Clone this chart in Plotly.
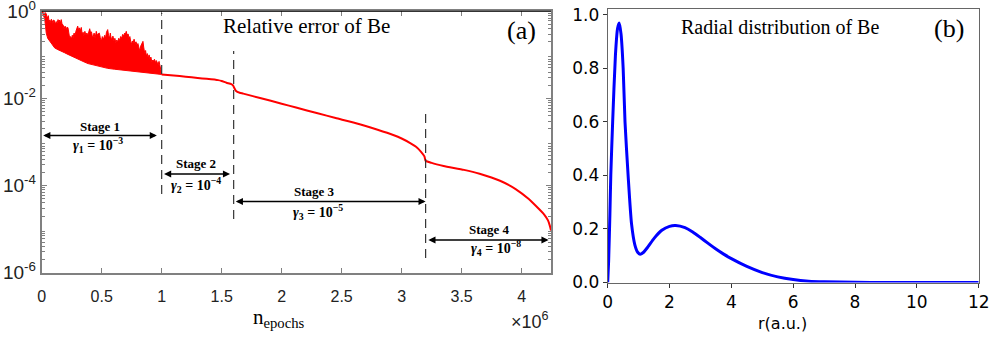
import plotly.graph_objects as go

W, H = 997, 339

# ---------------- Panel (a): relative error (x in units of 1e6 epochs, y as log10) -------------
stage1_upper_x = [0.000, 0.010, 0.020, 0.030, 0.038, 0.046, 0.055, 0.062, 0.068, 0.075, 0.080, 0.088,
                  0.094, 0.100, 0.108, 0.115, 0.122, 0.130, 0.136, 0.144, 0.150, 0.157, 0.163, 0.170,
                  0.178, 0.186, 0.195, 0.205, 0.212, 0.219, 0.226, 0.233, 0.240, 0.247, 0.255, 0.262,
                  0.270, 0.278, 0.285, 0.292, 0.300, 0.307, 0.315, 0.322, 0.330, 0.337, 0.345, 0.352,
                  0.360, 0.368, 0.376, 0.386, 0.393, 0.400, 0.408, 0.415, 0.422, 0.430, 0.437, 0.445,
                  0.455, 0.463, 0.470, 0.480, 0.488, 0.497, 0.505, 0.515, 0.525, 0.532, 0.540, 0.550,
                  0.557, 0.565, 0.572, 0.580, 0.587, 0.594, 0.602, 0.610, 0.618, 0.626, 0.634, 0.642,
                  0.650, 0.658, 0.666, 0.675, 0.683, 0.691, 0.698, 0.705, 0.712, 0.720, 0.728, 0.735,
                  0.742, 0.747, 0.755, 0.762, 0.770, 0.778, 0.786, 0.794, 0.802, 0.810, 0.817, 0.825,
                  0.832, 0.838, 0.844, 0.850, 0.858, 0.866, 0.872, 0.880, 0.888, 0.895, 0.903, 0.910,
                  0.918, 0.925, 0.932, 0.940, 0.948, 0.955, 0.962, 0.970, 0.978, 0.985, 0.992, 1.000]
stage1_upper_log10 = [0.00, -0.02, -0.05, -0.03, -0.06, -0.16, -0.10, -0.24, -0.20, -0.26, -0.18, -0.22,
                      -0.28, -0.20, -0.22, -0.30, -0.24, -0.26, -0.19, -0.25, -0.20, -0.27, -0.19, -0.30,
                      -0.31, -0.40, -0.34, -0.42, -0.36, -0.38, -0.52, -0.61, -0.58, -0.64, -0.55, -0.60,
                      -0.50, -0.55, -0.46, -0.40, -0.34, -0.42, -0.38, -0.45, -0.37, -0.52, -0.48, -0.56,
                      -0.46, -0.55, -0.50, -0.54, -0.42, -0.40, -0.50, -0.47, -0.58, -0.57, -0.50, -0.62,
                      -0.46, -0.55, -0.52, -0.50, -0.60, -0.69, -0.58, -0.64, -0.55, -0.62, -0.48, -0.42,
                      -0.55, -0.62, -0.50, -0.66, -0.60, -0.57, -0.68, -0.62, -0.72, -0.66, -0.70, -0.62,
                      -0.67, -0.58, -0.62, -0.53, -0.57, -0.50, -0.52, -0.46, -0.55, -0.52, -0.62, -0.58,
                      -0.70, -0.76, -0.68, -0.72, -0.64, -0.74, -0.70, -0.78, -0.74, -0.86, -0.91, -0.80,
                      -0.76, -0.72, -0.69, -0.82, -0.95, -0.90, -1.03, -0.97, -1.08, -1.00, -1.10, -1.05,
                      -1.16, -1.12, -1.14, -1.10, -1.18, -1.13, -1.20, -1.22, -1.15, -1.30, -1.33, -1.45]

stage1_lower_x = [0.0, 0.012, 0.025, 0.032, 0.038, 0.05, 0.067, 0.085, 0.108, 0.135, 0.163, 0.19, 0.219,
                  0.25, 0.275, 0.30, 0.33, 0.36, 0.386, 0.44, 0.497, 0.55, 0.608, 0.68, 0.747, 0.82,
                  0.886, 0.94, 1.0]
stage1_lower_log10 = [0.0, -0.08, -0.17, -0.35, -0.50, -0.62, -0.69, -0.77, -0.84, -0.88, -0.91, -0.95,
                      -0.99, -1.03, -1.07, -1.11, -1.14, -1.17, -1.20, -1.24, -1.28, -1.31, -1.33, -1.35,
                      -1.37, -1.39, -1.41, -1.43, -1.45]

later_x = [1.0, 1.1, 1.2, 1.3, 1.375, 1.47, 1.5, 1.54, 1.58, 1.595, 1.605, 1.62, 1.65, 1.68, 1.82, 2.0,
           2.12, 2.3, 2.45, 2.62, 2.8, 2.93, 3.0, 3.075, 3.12, 3.16, 3.19, 3.2, 3.25, 3.35, 3.52, 3.65,
           3.82, 3.95, 4.06, 4.12, 4.19, 4.22, 4.235, 4.245]
later_log10 = [-1.45, -1.475, -1.50, -1.53, -1.55, -1.58, -1.60, -1.64, -1.67, -1.70, -1.76, -1.83,
               -1.87, -1.89, -1.99, -2.12, -2.21, -2.34, -2.45, -2.57, -2.72, -2.84, -2.92, -3.03,
               -3.11, -3.22, -3.33, -3.43, -3.48, -3.55, -3.64, -3.73, -3.89, -4.08, -4.31, -4.47,
               -4.67, -4.80, -4.92, -5.03]

x_tickvals = [0, 0.5, 1, 1.5, 2, 2.5, 3, 3.5, 4]
x_ticktext = ["0", "0.5", "1", "1.5", "2", "2.5", "3", "3.5", "4"]
y_tickvals = [1, 1e-2, 1e-4, 1e-6]
y_ticktext = ["10<sup>0</sup>", "10<sup>-2</sup>", "10<sup>-4</sup>", "10<sup>-6</sup>"]

stage_names = ["Stage 1", "Stage 2", "Stage 3", "Stage 4"]
gamma_texts = ["<b><i>γ</i><sub>1</sub> = 10<sup>−3</sup></b>",
               "<b><i>γ</i><sub>2</sub> = 10<sup>−4</sup></b>",
               "<b><i>γ</i><sub>3</sub> = 10<sup>−5</sup></b>",
               "<b><i>γ</i><sub>4</sub> = 10<sup>−8</sup></b>"]

# ---------------- Panel (b): radial distribution -------------
r_vals = [0, 0.03, 0.07, 0.1, 0.16, 0.25, 0.32, 0.37, 0.43, 0.5, 0.56, 0.66, 0.77, 0.88, 0.97, 1.05,
          1.15, 1.3, 1.5, 1.75, 2.0, 2.2, 2.5, 2.75, 3.0, 3.25, 3.5, 3.75, 4.0, 4.5, 5.0, 5.5, 6.0,
          6.5, 7.0, 8.0, 9.0, 10.0, 12.0]
rho_vals = [0, 0.08, 0.25, 0.4, 0.6, 0.85, 0.95, 0.97, 0.93, 0.8, 0.6, 0.4, 0.22, 0.14, 0.113, 0.106,
            0.112, 0.133, 0.165, 0.195, 0.21, 0.213, 0.205, 0.189, 0.168, 0.146, 0.125, 0.106, 0.089,
            0.060, 0.037, 0.021, 0.011, 0.005, 0.0025, 0.0008, 0.0002, 0.0001, 0]

fig = go.Figure()

RED = "#ff0000"
fig.add_trace(go.Scatter(x=stage1_lower_x, y=[10 ** v for v in stage1_lower_log10], mode="lines",
                         line=dict(color=RED, width=1), xaxis="x", yaxis="y", showlegend=False))
fig.add_trace(go.Scatter(x=stage1_upper_x, y=[10 ** v for v in stage1_upper_log10], mode="lines",
                         line=dict(color=RED, width=1), fill="tonexty", fillcolor=RED,
                         xaxis="x", yaxis="y", showlegend=False))
fig.add_trace(go.Scatter(x=later_x, y=[10 ** v for v in later_log10], mode="lines",
                         line=dict(color=RED, width=2, shape="spline", smoothing=0.5),
                         xaxis="x", yaxis="y", showlegend=False))

fig.add_trace(go.Scatter(x=r_vals, y=rho_vals, mode="lines",
                         line=dict(color="#0000ff", width=3, shape="spline", smoothing=0.6),
                         xaxis="x2", yaxis="y2", showlegend=False))

# geometry (pixels)
AX_L, AX_R, AX_T, AX_B = 41.7, 551.0, 11.3, 272.7
BX_L, BX_R, BX_T, BX_B = 607.7, 978.7, 9.3, 282.5

def px(xp):
    return xp / W

def py(yp):
    return 1 - yp / H

def ylog_from_px(yp):
    return -6 * (yp - AX_T) / (AX_B - AX_T)

def ydom_from_px(yp):
    return (AX_B - yp) / (AX_B - AX_T)

GRAY = "#808080"
minor_vals = [m * 10 ** e for e in range(-6, 0) for m in range(2, 10)]

fig.update_layout(
    width=W, height=H, margin=dict(l=0, r=0, t=0, b=0, pad=0, autoexpand=False),
    paper_bgcolor="white", plot_bgcolor="white",
    xaxis=dict(domain=[px(AX_L), px(AX_R)], range=[0, 4.245], anchor="y", automargin=False,
               tickvals=x_tickvals, ticktext=x_ticktext, ticks="inside", ticklen=5,
               tickcolor=GRAY, tickwidth=1, showline=True, linecolor=GRAY, linewidth=2,
               mirror="ticks", showgrid=False, zeroline=False, ticklabelstandoff=8,
               ticklabeloverflow="allow",
               tickfont=dict(family="Liberation Sans", size=16, color="#222")),
    yaxis=dict(domain=[py(AX_B), py(AX_T)], type="log", range=[-6, 0], anchor="x", automargin=False,
               tickvals=y_tickvals, ticktext=y_ticktext, ticks="inside", ticklen=5,
               tickcolor=GRAY, tickwidth=1, showline=True, linecolor=GRAY, linewidth=2,
               mirror="ticks", showgrid=False, zeroline=False, ticklabeloverflow="allow",
               minor=dict(tickvals=minor_vals, ticks="inside", ticklen=3, tickcolor=GRAY),
               tickfont=dict(family="Liberation Sans", size=19, color="#222")),
    xaxis2=dict(domain=[px(BX_L), px(BX_R)], range=[0, 12], anchor="y2", dtick=2, tick0=0,
                automargin=False, ticklabeloverflow="allow",
                ticks="outside", ticklen=4, tickcolor="#333", showline=True, linecolor="#666",
                linewidth=1, mirror=True, showgrid=False, zeroline=False,
                tickfont=dict(family="DejaVu Sans", size=17, color="black")),
    yaxis2=dict(domain=[py(BX_B), py(BX_T)], range=[0, 1.021], anchor="x2", automargin=False,
                tickvals=[0, 0.2, 0.4, 0.6, 0.8, 1.0], tickformat=".1f", ticklabeloverflow="allow",
                ticks="outside", ticklen=4, tickcolor="#333", showline=True, linecolor="#666",
                linewidth=1, mirror=True, showgrid=False, zeroline=False,
                tickfont=dict(family="DejaVu Sans", size=17, color="black")),
)

shapes = []
# black top border of panel (a)
shapes.append(dict(type="line", xref="paper", yref="paper", x0=px(AX_L), x1=px(AX_R),
                   y0=py(AX_T), y1=py(AX_T), line=dict(color="black", width=1)))
# dashed stage dividers: (x, top px, bottom px)
dividers = [(1.0, 13, 194), (1.6, 51, 219), (3.2, 112, 258)]
for xd, yt, yb in dividers:
    shapes.append(dict(type="line", xref="x", yref="y domain", x0=xd, x1=xd,
                       y0=ydom_from_px(yb), y1=ydom_from_px(yt),
                       line=dict(color="#333", width=1.2, dash="9px,6px")))
fig.update_layout(shapes=shapes)

ann = []
rows = [(126, 135.5, 144.5), (163, 174, 185), (191, 201.5, 211.5), (229.5, 240, 248)]
name_x = [0.486, 1.283, 2.27, 3.735]
gamma_x = [0.47, 1.29, 2.30, 3.79]
arrow_ends = [(0.0, 0.96), (1.007, 1.57), (1.605, 3.2), (3.21, 4.225)]
for i in range(4):
    yn, ya, yg = rows[i]
    x0, x1 = arrow_ends[i]
    ann.append(dict(x=x1, y=ylog_from_px(ya), ax=x0, ay=ylog_from_px(ya), xref="x", yref="y",
                    axref="x", ayref="y", text="", showarrow=True, arrowhead=2, arrowside="end+start",
                    arrowsize=1.1, arrowwidth=1.3, arrowcolor="black", standoff=0, startstandoff=0))
    ann.append(dict(x=name_x[i], y=ylog_from_px(yn), xref="x", yref="y", text="<b>" + stage_names[i] + "</b>",
                    showarrow=False, xanchor="center", yanchor="middle",
                    font=dict(family="Liberation Serif", size=13, color="black")))
    ann.append(dict(x=gamma_x[i], y=ylog_from_px(yg), xref="x", yref="y", text=gamma_texts[i],
                    showarrow=False, xanchor="center", yanchor="middle",
                    font=dict(family="Liberation Serif", size=14, color="black")))

def label(xp, yp, text, family, size, color="black"):
    ann.append(dict(x=px(xp), y=py(yp), xref="paper", yref="paper", text=text, showarrow=False,
                    xanchor="center", yanchor="middle", font=dict(family=family, size=size, color=color)))

label(306.8, 26, "Relative error of Be", "Liberation Serif", 21)
label(521.6, 31, "(a)", "Liberation Serif", 26)
label(780, 27, "Radial distribution of Be", "Liberation Serif", 20)
label(949, 29, "(b)", "Liberation Serif", 26)
label(279, 318, "n<sub>epochs</sub>", "Liberation Serif", 21)
label(530, 320, "×10<sup>6</sup>", "Liberation Sans", 18, "#222")
label(782, 323, "r(a.u.)", "DejaVu Sans", 16)
fig.update_layout(annotations=ann)

fig.write_html("out.html", config={"displayModeBar": False},
               post_script="document.body.style.margin='0px';")
